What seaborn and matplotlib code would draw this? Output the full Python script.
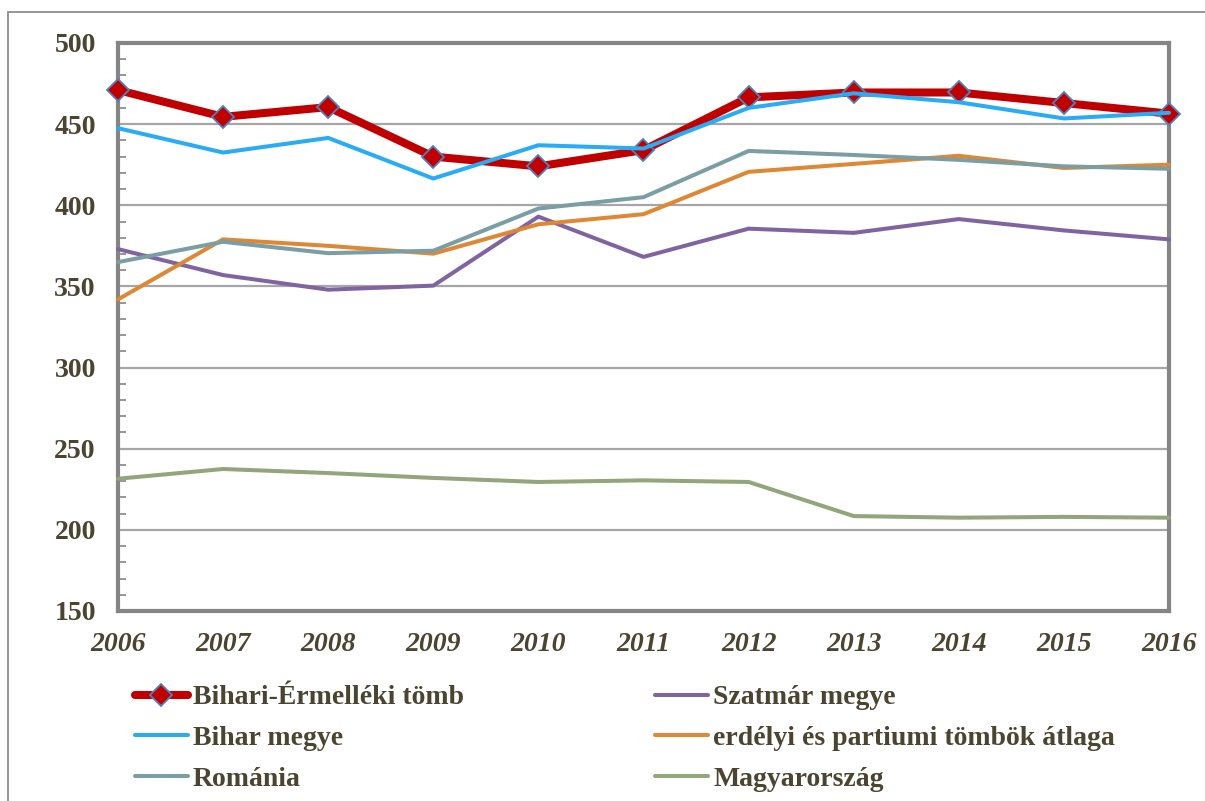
import matplotlib
matplotlib.use("Agg")
import numpy as np
import pandas as pd
import seaborn as sns
import matplotlib.pyplot as plt
from matplotlib.ticker import MultipleLocator
from matplotlib.patches import Rectangle

years = [2006, 2007, 2008, 2009, 2010, 2011, 2012, 2013, 2014, 2015, 2016]
bihari_ermelleki = [471, 454.5, 460.5, 430, 424, 434, 466.5, 469.5, 469.5, 463, 456.5]
bihar_megye = [447.5, 432.5, 441.5, 416.5, 437, 435, 460, 469, 463.5, 453.5, 457]
romania = [365, 377.5, 370.5, 372, 398, 405, 433.5, 431, 428, 424, 422.5]
szatmar_megye = [373, 357, 348, 350.5, 393, 368.2, 385.6, 383, 391.5, 384.5, 379]
erdelyi_atlag = [342, 379, 375, 370.2, 388.3, 394.5, 420.6, 425.5, 430.5, 423, 425]
magyarorszag = [231.5, 237.5, 235, 232, 229.5, 230.5, 229.5, 208.5, 207.5, 208, 207.5]

series_names = ["Bihari-Érmelléki tömb", "Bihar megye", "Románia",
                "Szatmár megye", "erdélyi és partiumi tömbök átlaga", "Magyarország"]
series_values = [bihari_ermelleki, bihar_megye, romania,
                 szatmar_megye, erdelyi_atlag, magyarorszag]
colors = ["#C00000", "#2AABF5", "#7A9EA3", "#8064A2", "#DE8835", "#93A57B"]
zorders = [3, 5, 7, 4, 6, 8]

df = pd.concat([pd.DataFrame({"year": years, "value": v, "series": n})
                for n, v in zip(series_names, series_values)], ignore_index=True)

sns.set_style("white")
plt.rcParams["font.family"] = ["Liberation Serif", "DejaVu Serif"]
TEXT = "#4A4430"
FS = 20

fig = plt.figure(figsize=(12.05, 8.01), dpi=100)
ax = fig.add_axes([118/1205, 1-611/801, (1169-118)/1205, (611-43)/801])

for i, (name, col, z) in enumerate(zip(series_names, colors, zorders)):
    sub = df[df["series"] == name]
    if i == 0:
        sns.lineplot(data=sub, x="year", y="value", ax=ax, color=col, linewidth=5.8,
                     marker="D", markersize=11, markerfacecolor=col,
                     markeredgecolor="#4F81BD", markeredgewidth=1.3,
                     label=name, zorder=z, clip_on=False)
    else:
        sns.lineplot(data=sub, x="year", y="value", ax=ax, color=col, linewidth=2.9,
                     label=name, zorder=z, clip_on=False)

ax.set_xlim(2006, 2016)
ax.set_ylim(150, 500)
ax.set_xticks(years)
ax.set_xticklabels([str(y) for y in years])
ax.yaxis.set_major_locator(MultipleLocator(50))
ax.yaxis.set_minor_locator(MultipleLocator(10))
ax.set_xlabel("")
ax.set_ylabel("")

ax.grid(False)
for yv in range(200, 500, 50):
    ax.axhline(yv, color="#A6A6A6", linewidth=1.6, zorder=1)

for s in ax.spines.values():
    s.set_visible(True)
    s.set_color("#858585")
    s.set_linewidth(3)

ax.tick_params(axis="y", which="major", direction="out", length=6, width=1.5,
               color="#858585", pad=10, labelsize=FS, labelcolor=TEXT)
ax.tick_params(axis="y", which="minor", direction="in", length=6, width=1.2,
               color="#858585", left=True)
ax.tick_params(axis="x", which="major", direction="out", length=6, width=1.5,
               color="#858585", pad=9, labelsize=FS, labelcolor=TEXT)
for lab in ax.get_yticklabels():
    lab.set_fontweight("bold")
for lab in ax.get_xticklabels():
    lab.set_fontweight("bold")
    lab.set_fontstyle("italic")

handles, labels = ax.get_legend_handles_labels()
ax.get_legend().remove()
leg = fig.legend(handles, labels, ncol=2, loc="upper left",
                 bbox_to_anchor=(135/1205, 1-685/801), frameon=False,
                 borderpad=0, borderaxespad=0, handlelength=1.9, handletextpad=0.18,
                 columnspacing=6.9, labelspacing=0.55,
                 prop={"family": ["Liberation Serif"], "weight": "bold", "size": FS})
for t in leg.get_texts():
    t.set_color(TEXT)

fig.add_artist(Rectangle((8/1205, -0.1), 2, 1-12/801+0.1, transform=fig.transFigure,
                         fill=False, edgecolor="#8C8C8C", linewidth=1.3))

fig.savefig("out.png", dpi=100, facecolor="white")
